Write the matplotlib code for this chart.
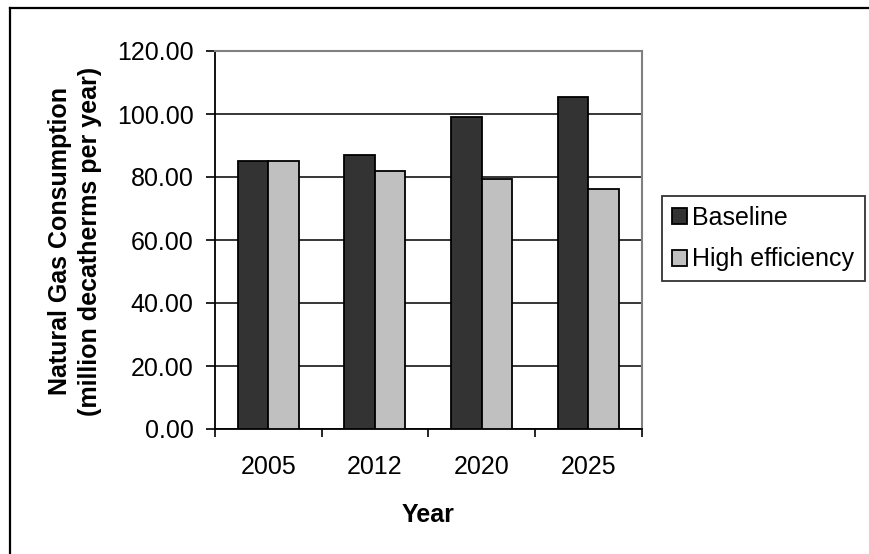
import matplotlib
matplotlib.use("Agg")
import matplotlib.pyplot as plt
import numpy as np
from matplotlib.lines import Line2D

plt.rcParams['font.family'] = ['Liberation Sans', 'DejaVu Sans']

years = ["2005", "2012", "2020", "2025"]
baseline = [85.0, 87.0, 99.0, 105.3]
high_efficiency = [85.0, 81.8, 79.3, 76.3]
series_names = ["Baseline", "High efficiency"]
y_ticks = [0, 20, 40, 60, 80, 100, 120]

FS = 18

fig = plt.figure(figsize=(8.69, 5.54), dpi=100)
W, H = 869, 554
ax = fig.add_axes([215 / W, 1 - 429 / H, (641.5 - 215) / W, (429 - 51) / H])

x = np.arange(len(years))
bw = 1 / 3.5
ax.bar(x - bw / 2, baseline, bw, color="#333333", edgecolor="black",
       linewidth=1.3, zorder=3, label=series_names[0])
ax.bar(x + bw / 2, high_efficiency, bw, color="#C0C0C0", edgecolor="black",
       linewidth=1.3, zorder=3, label=series_names[1])

ax.set_xlim(-0.5, len(years) - 0.5)
ax.set_ylim(0, 120)
ax.set_yticks(y_ticks)
ax.set_yticklabels([f"{v:.2f}" for v in y_ticks], fontsize=FS)
ax.yaxis.grid(True, color="black", linewidth=1.1, zorder=0)
ax.set_axisbelow(True)

# category boundaries carry the tick marks, labels sit between them
ax.set_xticks(np.arange(-0.5, len(years)), minor=False)
ax.set_xticklabels([""] * (len(years) + 1))
ax.set_xticks(x, minor=True)
ax.set_xticklabels(years, minor=True, fontsize=FS)
ax.tick_params(axis="x", which="major", direction="out", length=6, width=1.2, color="black")
ax.tick_params(axis="x", which="minor", length=0, pad=19)
ax.tick_params(axis="y", direction="out", length=6.5, width=1.2, pad=9)

for side in ("top", "right"):
    ax.spines[side].set_color("#808080")
    ax.spines[side].set_linewidth(1.5)
for side in ("left", "bottom"):
    ax.spines[side].set_color("black")
    ax.spines[side].set_linewidth(1.3)

ax.set_xlabel("Year", fontsize=FS, fontweight="bold", labelpad=17)
fig.text(75 / W, 1 - 241 / H,
         "Natural Gas Consumption\n(million decatherms per year)",
         rotation=90, ha="center", va="center", multialignment="center",
         fontsize=FS, fontweight="bold", linespacing=1.3)

leg = fig.legend(loc="upper left", bbox_to_anchor=(662 / W, 1 - 196 / H),
                 bbox_transform=fig.transFigure, fontsize=FS, frameon=True,
                 fancybox=False, borderaxespad=0, borderpad=0.4,
                 labelspacing=0.7, handlelength=0.6, handleheight=0.6,
                 handletextpad=0.22)
leg.get_frame().set_edgecolor("black")
leg.get_frame().set_linewidth(1.3)

# outer chart border (top and left edges)
fig.add_artist(Line2D([9.5 / W, 9.5 / W], [0, 1 - 8 / H], transform=fig.transFigure,
                      color="black", linewidth=1.6))
fig.add_artist(Line2D([9.5 / W, 1], [1 - 8 / H, 1 - 8 / H], transform=fig.transFigure,
                      color="black", linewidth=1.6))

fig.savefig("out.png", dpi=100)
